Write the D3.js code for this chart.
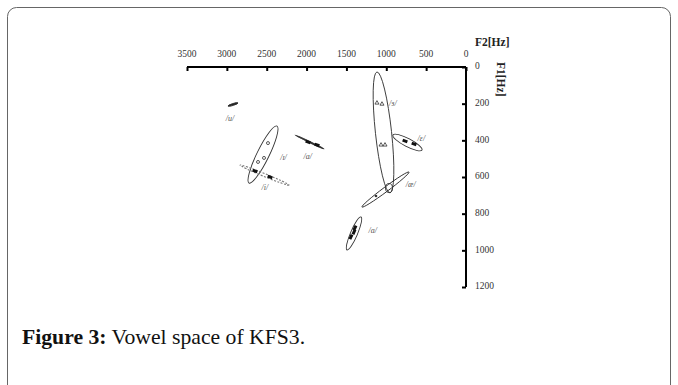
<!DOCTYPE html>
<html><head><meta charset="utf-8">
<script src="https://cdn.jsdelivr.net/npm/d3@7"></script>
<style>body{margin:0;background:#fff}</style>
</head><body>
<svg id="c" width="678" height="385"></svg>
<script>
// ---- data ----
const xTicks = [3500, 3000, 2500, 2000, 1500, 1000, 500, 0];
const yTicks = [0, 200, 400, 600, 800, 1000, 1200];
const vowels  = ["/u/", "/ɪ/", "/i/", "/ɑ/", "/ɜ/", "/ɛ/", "/æ/", "/a/"];
// ellipse major-axis endpoints (Hz) and semi-minor spread (Hz, F1 units)
const ellF2a = [2986, 2371, 2835, 2145, 1117, 916, 1305, 1317];
const ellF1a = [213, 322, 535, 371, 27, 371, 764, 818];
const ellF2b = [2860, 2722, 2221, 1781, 953, 552, 715, 1493];
const ellF1b = [196, 633, 644, 447, 687, 453, 573, 998];
const ellMinor = [5, 33, 8, 3, 44, 22, 13, 19];
const labelF2 = [2961, 2290, 2522, 1985, 918, 560, 693, 1170];
const labelF1 = [284, 496, 660, 491, 202, 393, 644, 895];
// tokens
const tokVowel = ["/ɪ/", "/ɪ/", "/ɪ/", "/i/", "/i/", "/ɑ/", "/ɑ/", "/ɜ/", "/ɜ/", "/ɜ/", "/ɜ/", "/ɛ/", "/ɛ/", "/æ/", "/a/", "/a/", "/a/"];
const tokF2 = [2484, 2534, 2609, 2647, 2459, 1982, 1869, 1117, 1054, 1066, 1016, 765, 652, 1129, 1393, 1405, 1443];
const tokF1 = [415, 496, 518, 567, 600, 409, 425, 196, 202, 425, 425, 404, 420, 704, 878, 900, 927];
// extra small ring near /æ/–/ɜ/ junction
const ringF2 = [966];
const ringF1 = [660];

// ---- chart ----
const svg = d3.select("#c");
svg.append("rect").attr("x", 7.5).attr("y", 7.5).attr("width", 663).attr("height", 395)
  .attr("rx", 9).attr("fill", "none").attr("stroke", "#666").attr("stroke-width", 1);

const x = d3.scaleLinear().domain([0, 3500]).range([466, 187]);
const y = d3.scaleLinear().domain([0, 1200]).range([67, 287]);
const serif = "'Liberation Serif','Times New Roman',serif";

const xAxis = svg.append("g").attr("transform", `translate(0,${y(0)})`)
  .call(d3.axisBottom(x).tickValues(xTicks).tickSize(4).tickFormat(() => ""));
const yAxis = svg.append("g").attr("transform", `translate(${x(0)},0)`)
  .call(d3.axisLeft(y).tickValues(yTicks).tickSize(4).tickFormat(() => ""));
[xAxis, yAxis].forEach(g => {
  g.select(".domain").attr("stroke", "#000").attr("stroke-width", 2);
  g.selectAll(".tick line").attr("stroke", "#000").attr("stroke-width", 2);
});
xAxis.select(".domain").attr("d", `M${x(3500)},0H${x(0)}`);
yAxis.select(".domain").attr("d", `M0,${y(0)}V${y(1200)}`);

svg.append("g").selectAll("text").data(xTicks).join("text")
  .attr("x", d => x(d)).attr("y", 57).attr("text-anchor", "middle")
  .attr("font-family", serif).attr("font-size", 9.5).attr("fill", "#333").text(d => d);
svg.append("g").selectAll("text").data(yTicks).join("text")
  .attr("x", 475).attr("y", d => y(d)).attr("dominant-baseline", "middle")
  .attr("font-family", serif).attr("font-size", 9.5).attr("fill", "#333").text(d => d);

svg.append("text").attr("x", 475).attr("y", 46).attr("font-family", serif)
  .attr("font-weight", "bold").attr("font-size", 11.5).attr("fill", "#222").text("F2[Hz]");
svg.append("text").attr("transform", "translate(497,62) rotate(90)").attr("font-family", serif)
  .attr("font-weight", "bold").attr("font-size", 11.5).attr("fill", "#222").text("F1[Hz]");

// ellipses
const kF1 = (y(1200) - y(0)) / 1200;
const ellG = svg.append("g");
vowels.forEach((v, i) => {
  const x1 = x(ellF2a[i]), y1 = y(ellF1a[i]), x2 = x(ellF2b[i]), y2 = y(ellF1b[i]);
  const cx = (x1 + x2) / 2, cy = (y1 + y2) / 2;
  const rx = Math.hypot(x2 - x1, y2 - y1) / 2;
  const ry = ellMinor[i] * kF1;
  const ang = Math.atan2(y2 - y1, x2 - x1) * 180 / Math.PI;
  const thin = ellMinor[i] < 10;
  const e = ellG.append("ellipse").attr("cx", 0).attr("cy", 0).attr("rx", rx).attr("ry", ry)
    .attr("transform", `translate(${cx},${cy}) rotate(${ang})`)
    .attr("fill", thin && v !== "/i/" ? "#222" : "none")
    .attr("stroke", v === "/i/" ? "#777" : "#333")
    .attr("stroke-width", thin ? 0.9 : 0.9);
  if (v === "/i/") e.attr("stroke-dasharray", "2,1.5").attr("stroke-width", 1.1);
});
ringF2.forEach((f2, i) => {
  svg.append("ellipse").attr("cx", x(f2)).attr("cy", y(ringF1[i])).attr("rx", 3.5).attr("ry", 4.5)
    .attr("fill", "none").attr("stroke", "#333").attr("stroke-width", 0.9);
});

// tokens
const tokG = svg.append("g");
tokVowel.forEach((v, i) => {
  const px = x(tokF2[i]), py = y(tokF1[i]);
  if (v === "/ɪ/") {
    tokG.append("circle").attr("cx", px).attr("cy", py).attr("r", 1.5)
      .attr("fill", "none").attr("stroke", "#444").attr("stroke-width", 0.9);
  } else if (v === "/ɜ/") {
    tokG.append("path").attr("d", d3.symbol(d3.symbolTriangle, 7)())
      .attr("transform", `translate(${px},${py})`).attr("fill", "none")
      .attr("stroke", "#333").attr("stroke-width", 0.8);
  } else if (v === "/æ/") {
    tokG.append("circle").attr("cx", px).attr("cy", py).attr("r", 1.3).attr("fill", "#333");
  } else {
    tokG.append("rect").attr("x", px - 2.5).attr("y", py - 1.5).attr("width", 5).attr("height", 3)
      .attr("transform", `rotate(${v === "/a/" ? -65 : 20},${px},${py})`).attr("fill", "#111");
  }
});

// labels
svg.append("g").selectAll("text").data(vowels).join("text")
  .attr("x", (d, i) => x(labelF2[i])).attr("y", (d, i) => y(labelF1[i]))
  .attr("text-anchor", "middle").attr("dominant-baseline", "middle")
  .attr("font-family", serif).attr("font-style", "italic").attr("font-size", 8)
  .attr("fill", "#555").text(d => d);

// caption
const cap = svg.append("text").attr("x", 22).attr("y", 344).attr("font-family", serif)
  .attr("font-size", 21.7).attr("fill", "#111");
cap.append("tspan").attr("font-weight", "bold").text("Figure 3:");
cap.append("tspan").text(" Vowel space of KFS3.");
</script>
</body></html>
